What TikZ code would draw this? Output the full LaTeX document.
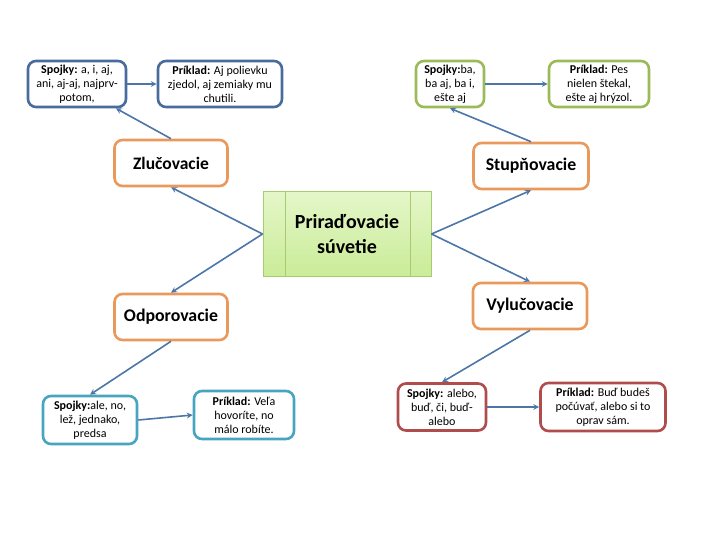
\documentclass[tikz,border=0pt]{standalone}
\usepackage{fontspec}
\setmainfont{Carlito}
\usepackage{tikz}
\usetikzlibrary{arrows,shapes,positioning}
\usepackage{xcolor}
\definecolor{kjblue}{RGB}{72,108,158}
\definecolor{kjgreen}{RGB}{155,187,89}
\definecolor{kjorange}{RGB}{234,153,92}
\definecolor{kjteal}{RGB}{72,165,192}
\definecolor{kjred}{RGB}{176,76,76}
\definecolor{kjlink}{RGB}{76,117,168}
\definecolor{kjlime}{RGB}{228,246,200}
\definecolor{kjlime2}{RGB}{202,236,152}
\definecolor{kjlimeline}{RGB}{165,204,112}
\tikzstyle{arrow} = [line width=1.6pt,->,>=stealth,color=kjlink]
\tikzstyle{infobox} = [rectangle, rounded corners=8pt, line width=2.6pt, fill=white, align=center, inner sep=0pt, font=\fontsize{12}{14}\selectfont]
\tikzstyle{catbox} = [rectangle, rounded corners=8pt, line width=2.6pt, draw=kjorange, fill=white, align=center, inner sep=0pt, minimum width=113pt, minimum height=46pt, font=\fontsize{17.8}{20}\selectfont\bfseries]

\begin{document}
\begin{tikzpicture}[x=1pt,y=-1pt]
\useasboundingbox (0,0) rectangle (720,540);

% Center
\node[rectangle, draw=kjlimeline, line width=1pt, top color=kjlime, bottom color=kjlime2, minimum width=168pt, minimum height=84pt, align=center, font=\fontsize{20}{24.5}\selectfont\bfseries] (pris) at (347,234) {Priraďovacie\\súvetie};
\draw[kjlimeline, line width=1pt] ([xshift=23pt]pris.north west) -- ([xshift=23pt]pris.south west);
\draw[kjlimeline, line width=1pt] ([xshift=-21pt]pris.north east) -- ([xshift=-21pt]pris.south east);

% Categories
\node[catbox, font=\fontsize{17.5}{20}\selectfont\bfseries] (zluc) at (171,163) {Zlučovacie};
\node[catbox, minimum width=115pt] (stup) at (531,166) {Stupňovacie};
\node[catbox] (odp) at (171,317) {Odporovacie};
\node[catbox, minimum width=114pt] (vyl) at (530,306) {Vylučovacie};

% Conjunctions and examples
\node[infobox, draw=kjblue, minimum width=98pt, minimum height=46pt] (spzluc) at (77,84) {\textbf{Spojky:} a, i, aj,\\ani, aj-aj, najprv-\\potom,};
\node[infobox, draw=kjblue, minimum width=124pt, minimum height=46pt] (przluc) at (220,84) {\textbf{Príklad:} Aj polievku\\zjedol, aj zemiaky mu\\chutili.};
\node[infobox, draw=kjgreen, minimum width=68pt, minimum height=46pt] (spstup) at (450,84) {\textbf{Spojky:}ba,\\ba aj, ba i,\\ešte aj};
\node[infobox, draw=kjgreen, minimum width=100pt, minimum height=46pt] (prstup) at (599,84) {\textbf{Príklad:} Pes\\nielen štekal,\\ešte aj hrýzol.};
\node[infobox, draw=kjteal, minimum width=94pt, minimum height=48pt] (spodp) at (90,420) {\textbf{Spojky:}ale, no,\\lež, jednako,\\predsa};
\node[infobox, draw=kjteal, minimum width=100pt, minimum height=48pt] (prodp) at (244,415) {\textbf{Príklad:} Veľa\\hovoríte, no\\málo robíte.};
\node[infobox, draw=kjred, minimum width=88pt, minimum height=47pt] (spvyl) at (442,407) {\textbf{Spojky:} alebo,\\buď, či, buď-\\alebo};
\node[infobox, draw=kjred, minimum width=125pt, minimum height=48pt] (prvyl) at (603,407) {\textbf{Príklad:} Buď budeš\\počúvať, alebo si to\\oprav sám.};

% Links
\draw[arrow] (pris.west) -- (zluc.south);
\draw[arrow] (pris.west) -- (odp.north);
\draw[arrow] (pris.east) -- (stup.south);
\draw[arrow] (pris.east) -- (vyl.north);
\draw[arrow] (zluc.north) -- (spzluc.-32);
\draw[arrow] (stup.north) -- (spstup.south);
\draw[arrow] (odp.south) -- (spodp.north);
\draw[arrow] (vyl.south) -- (spvyl.north);
\draw[arrow] (spzluc.east) -- (przluc.west);
\draw[arrow] (spstup.east) -- (prstup.west);
\draw[arrow] (spodp.east) -- (prodp.west);
\draw[arrow] (spvyl.east) -- (prvyl.west);
\end{tikzpicture}
\end{document}
